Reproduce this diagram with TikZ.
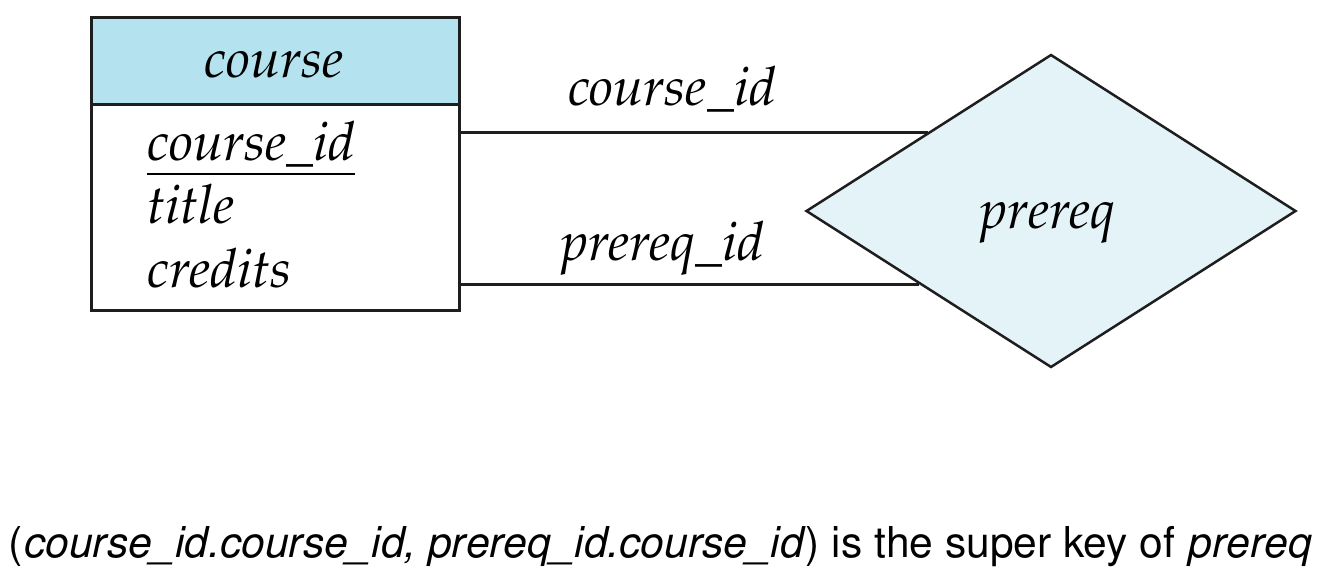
\documentclass[tikz,border=0pt]{standalone}
\usepackage[T1]{fontenc}
\usepackage{mathpazo}
\usetikzlibrary{shapes.geometric,calc}
\definecolor{hdrblue}{RGB}{180,226,238}
\definecolor{relblue}{RGB}{228,243,248}
\definecolor{ink}{RGB}{30,30,30}
\tikzset{
  er/.style={font=\fontsize{54}{62}\selectfont\itshape, inner sep=0pt, anchor=base},
  attr/.style={er, anchor=base west},
  boxline/.style={draw=ink, line width=3pt},
  link/.style={draw=ink, line width=3pt},
  caption/.style={font=\fontfamily{phv}\fontsize{42.5}{50}\selectfont, inner sep=0pt, anchor=base},
}
\begin{document}
\begin{tikzpicture}[x=1pt,y=-1pt]
\useasboundingbox (0,0) rectangle (1332,568);
% entity set: header and attribute compartment
\node[boxline, fill=white, rectangle, minimum width=368pt, minimum height=206pt, inner sep=0pt, anchor=north west] (body) at (90,103) {};
\node[boxline, fill=hdrblue, rectangle, minimum width=368pt, minimum height=87pt, inner sep=0pt, anchor=north west] (hdr) at (90,16) {};
\node[er] (hdrtxt) at (274,77) {course};
\node[attr] (a1) at (147,160) {\underline{course\_id}};
\node[attr] (a2) at (147,223) {title};
\node[attr] (a3) at (147,287) {credits};
% relationship set
\node[diamond, draw=ink, line width=2.5pt, fill=relblue, minimum width=490pt, minimum height=313pt, inner sep=0pt] (rel) at (1051,211) {};
\node[er] (reltxt) at (1048,228) {prereq};
% role connectors
\coordinate (ca) at ($(rel.west)!0.5!(rel.north)$);
\coordinate (cb) at ($(rel.west)!0.465!(rel.south)$);
\draw[link] (ca) -- (ca -| body.east);
\draw[link] (cb) -- (cb -| body.east);
\node[er] (r1) at (672,105) {course\_id};
\node[er] (r2) at (663,260) {prereq\_id};
% caption
\node[caption] (cap) at (660,557) {(\textit{course\_id.course\_id, prereq\_id.course\_id}) is the super key of \textit{prereq}};
\end{tikzpicture}
\end{document}
